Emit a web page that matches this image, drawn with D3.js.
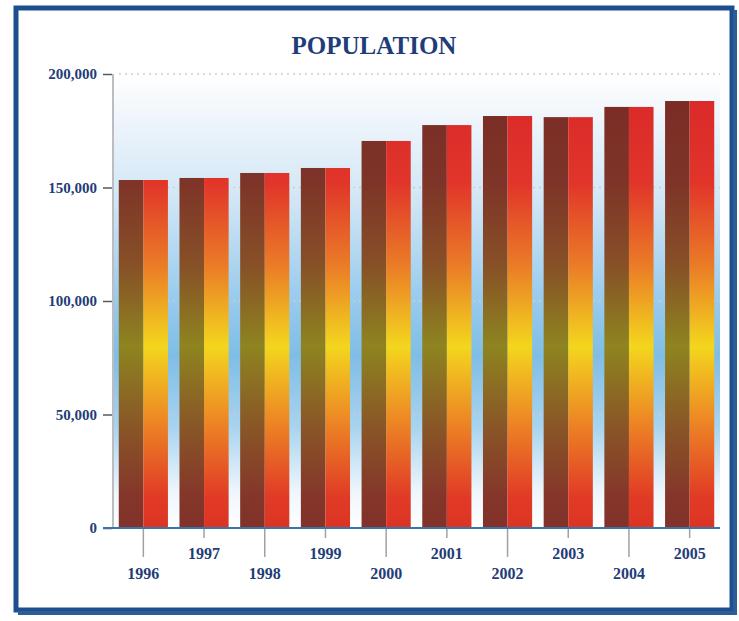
<!DOCTYPE html>
<html>
<head>
<meta charset="utf-8">
<script src="https://cdn.jsdelivr.net/npm/d3@7"></script>
<style>
  html, body { margin: 0; padding: 0; background: #ffffff; }
  svg { display: block; }
</style>
</head>
<body>
<div class="chart"></div>
<script>
// data
var years = ["1996", "1997", "1998", "1999", "2000", "2001", "2002", "2003", "2004", "2005"];
var population = [153300, 154200, 156400, 158600, 170500, 177500, 181500, 181000, 185500, 188100];
var yTicks = [0, 50000, 100000, 150000, 200000];
var title = "POPULATION";

var dataset = years.map(function (y, i) { return { year: y, value: population[i] }; });

var W = 739, H = 621;
var plot = { left: 113, right: 720, top: 74, bottom: 528 };
var textBlue = "#1f3d78";
var serif = "'Liberation Serif', 'Times New Roman', serif";

var svg = d3.select(".chart").append("svg")
  .attr("width", W)
  .attr("height", H);

var defs = svg.append("defs");

// sky coloured backdrop behind the bars
var bg = defs.append("linearGradient").attr("id", "bg")
  .attr("x1", 0).attr("y1", 0).attr("x2", 0).attr("y2", 1);
[[0, "#ffffff"], [0.1, "#eef5fb"], [0.28, "#d0e6f5"], [0.48, "#9ccdee"], [0.62, "#80bde6"],
 [0.78, "#a9d4ef"], [0.92, "#eef6fc"], [1, "#ffffff"]].forEach(function (s) {
  bg.append("stop").attr("offset", s[0]).attr("stop-color", s[1]);
});

// the two halves of each bar share one colour band in page space
function barGradient(id, stops) {
  var g = defs.append("linearGradient").attr("id", id)
    .attr("gradientUnits", "userSpaceOnUse")
    .attr("x1", 0).attr("y1", plot.top).attr("x2", 0).attr("y2", plot.bottom);
  stops.forEach(function (s) {
    g.append("stop").attr("offset", s[0]).attr("stop-color", s[1]);
  });
}
barGradient("darkHalf", [[0, "#7a2a24"], [0.24, "#7e3428"], [0.42, "#875027"], [0.6, "#8e8420"],
  [0.78, "#895527"], [0.93, "#84362a"], [1, "#823229"]]);
barGradient("brightHalf", [[0, "#d8262a"], [0.24, "#e1352a"], [0.42, "#ea7b27"], [0.6, "#f3d61e"],
  [0.78, "#ec7f25"], [0.93, "#e13b26"], [1, "#dc3424"]]);

// frame
svg.append("rect")
  .attr("x", 16).attr("y", 8)
  .attr("width", 716).attr("height", 602)
  .attr("fill", "#ffffff")
  .attr("stroke", "#1d4f8e")
  .attr("stroke-width", 5);
svg.append("line")
  .attr("x1", 18).attr("x2", 736).attr("y1", 613).attr("y2", 613)
  .attr("stroke", "#2c5d97").attr("stroke-width", 4);
svg.append("line")
  .attr("x1", 735).attr("x2", 735).attr("y1", 10).attr("y2", 615)
  .attr("stroke", "#2c5d97").attr("stroke-width", 4);

// scales
var xScale = d3.scaleBand()
  .domain(years)
  .range([plot.left, plot.right])
  .paddingInner(0.19)
  .paddingOuter(0.095);

var yScale = d3.scaleLinear()
  .domain([0, 200000])
  .range([plot.bottom, plot.top]);

svg.append("rect")
  .attr("x", plot.left + 1).attr("y", plot.top)
  .attr("width", plot.right - plot.left - 1)
  .attr("height", plot.bottom - plot.top)
  .attr("fill", "url(#bg)");

// dotted grid
svg.append("g").attr("class", "grid")
  .selectAll("line")
  .data(yTicks.filter(function (t) { return t > 0; }))
  .enter().append("line")
  .attr("x1", plot.left + 6).attr("x2", plot.right)
  .attr("y1", function (d) { return yScale(d); })
  .attr("y2", function (d) { return yScale(d); })
  .attr("stroke", "#c9cdd3")
  .attr("stroke-width", 1.5)
  .attr("stroke-dasharray", "2,4");

// bars
var bars = svg.append("g").attr("class", "bars")
  .selectAll("g")
  .data(dataset)
  .enter().append("g");

bars.append("rect")
  .attr("x", function (d) { return xScale(d.year); })
  .attr("y", function (d) { return yScale(d.value); })
  .attr("width", xScale.bandwidth() / 2)
  .attr("height", function (d) { return yScale(0) - yScale(d.value); })
  .attr("fill", "url(#darkHalf)");

bars.append("rect")
  .attr("x", function (d) { return xScale(d.year) + xScale.bandwidth() / 2; })
  .attr("y", function (d) { return yScale(d.value); })
  .attr("width", xScale.bandwidth() / 2)
  .attr("height", function (d) { return yScale(0) - yScale(d.value); })
  .attr("fill", "url(#brightHalf)");

// y axis
var yAxis = d3.axisLeft(yScale)
  .tickValues(yTicks)
  .tickSize(9)
  .tickPadding(6)
  .tickFormat(d3.format(","));

var gy = svg.append("g")
  .attr("class", "y-axis")
  .attr("transform", "translate(" + (plot.left - 1) + ",0)")
  .call(yAxis);
gy.select(".domain").remove();
gy.selectAll(".tick line").attr("stroke", "#555a60").attr("stroke-width", 1.5);
gy.selectAll("text")
  .attr("fill", textBlue)
  .style("font-family", serif)
  .style("font-weight", "bold")
  .style("font-size", "15px");

svg.append("line")
  .attr("x1", plot.left).attr("x2", plot.left)
  .attr("y1", plot.top).attr("y2", plot.bottom)
  .attr("stroke", "#a4a7ab").attr("stroke-width", 1.5);

// x axis: ticks alternate long / short so the labels stagger
var gx = svg.append("g").attr("class", "x-axis");
gx.append("line")
  .attr("x1", plot.left - 10).attr("x2", plot.right)
  .attr("y1", plot.bottom).attr("y2", plot.bottom)
  .attr("stroke", "#3b73ad").attr("stroke-width", 2);

var xt = gx.selectAll(".tick")
  .data(years)
  .enter().append("g")
  .attr("class", "tick")
  .attr("transform", function (d) { return "translate(" + (xScale(d) + xScale.bandwidth() / 2) + ",0)"; });

xt.append("line")
  .attr("y1", plot.bottom + 1)
  .attr("y2", function (d, i) { return i % 2 === 0 ? plot.bottom + 29 : plot.bottom + 10; })
  .attr("stroke", "#9ea2a7").attr("stroke-width", 1.5);

xt.append("text")
  .attr("y", function (d, i) { return i % 2 === 0 ? plot.bottom + 51 : plot.bottom + 31; })
  .attr("text-anchor", "middle")
  .attr("fill", textBlue)
  .style("font-family", serif)
  .style("font-weight", "bold")
  .style("font-size", "16px")
  .text(function (d) { return d; });

// title
svg.append("text")
  .attr("x", 374).attr("y", 54)
  .attr("text-anchor", "middle")
  .attr("fill", textBlue)
  .style("font-family", serif)
  .style("font-weight", "bold")
  .style("font-size", "25px")
  .text(title);
</script>
</body>
</html>
